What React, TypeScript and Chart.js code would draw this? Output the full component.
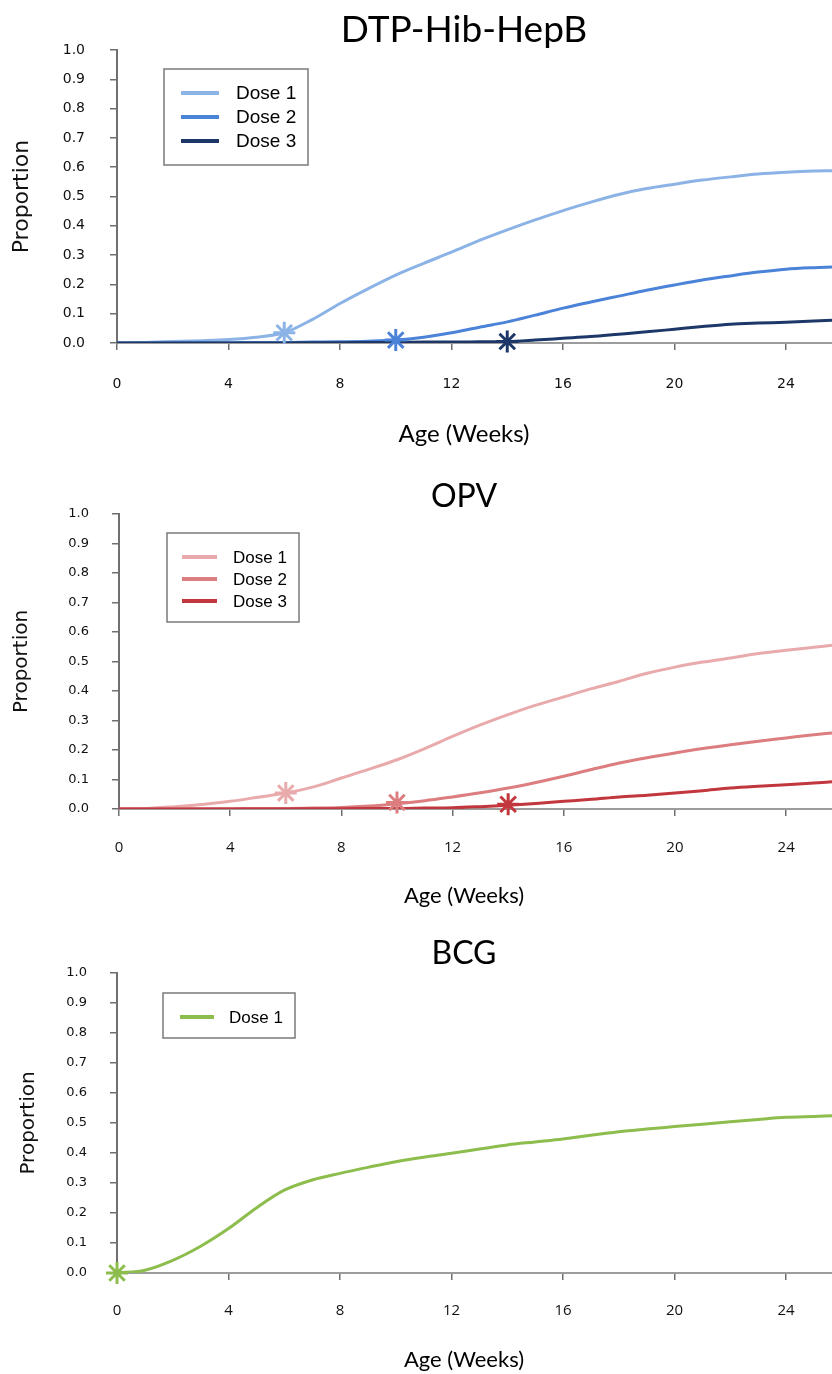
import React, { useEffect, useRef } from "react";
import { Chart, registerables } from "chart.js";

Chart.register(...registerables);

// ---------- data ----------
const weeks = [0, 1, 2, 3, 4, 5, 6, 7, 8, 9, 10, 11, 12, 13, 14, 15, 16, 17, 18, 19, 20, 21, 22, 23, 24, 25, 25.65];
const xTicks = [0, 4, 8, 12, 16, 20, 24];
const yTicks = [0, 0.1, 0.2, 0.3, 0.4, 0.5, 0.6, 0.7, 0.8, 0.9, 1.0];
const doseLabels = ["Dose 1", "Dose 2", "Dose 3"];

const dtpDose1 = [0, 0.002, 0.005, 0.008, 0.012, 0.02, 0.035, 0.08, 0.135, 0.185, 0.232, 0.272, 0.31, 0.35, 0.386, 0.42, 0.452, 0.481, 0.507, 0.527, 0.542, 0.556, 0.567, 0.577, 0.583, 0.587, 0.588];
const dtpDose2 = [0, 0, 0, 0.001, 0.001, 0.002, 0.002, 0.003, 0.004, 0.006, 0.01, 0.02, 0.035, 0.054, 0.072, 0.095, 0.119, 0.14, 0.16, 0.18, 0.198, 0.215, 0.229, 0.242, 0.252, 0.257, 0.259];
const dtpDose3 = [0, 0, 0, 0, 0, 0, 0, 0.001, 0.001, 0.002, 0.002, 0.003, 0.003, 0.004, 0.005, 0.01, 0.016, 0.022, 0.03, 0.038, 0.047, 0.056, 0.064, 0.068, 0.071, 0.075, 0.078];
const dtpMarkerWeeks = [6, 10, 14];
const dtpMarkerValues = [0.035, 0.01, 0.005];

const opvDose1 = [0, 0.002, 0.008, 0.015, 0.026, 0.04, 0.054, 0.075, 0.105, 0.135, 0.167, 0.205, 0.246, 0.285, 0.32, 0.352, 0.38, 0.408, 0.433, 0.46, 0.481, 0.498, 0.512, 0.527, 0.538, 0.548, 0.555];
const opvDose2 = [0, 0, 0, 0.001, 0.001, 0.002, 0.002, 0.003, 0.005, 0.01, 0.018, 0.028, 0.041, 0.055, 0.071, 0.09, 0.111, 0.134, 0.156, 0.174, 0.19, 0.205, 0.218, 0.23, 0.241, 0.252, 0.258];
const opvDose3 = [0, 0, 0, 0, 0, 0, 0, 0.001, 0.001, 0.002, 0.002, 0.003, 0.004, 0.008, 0.013, 0.019, 0.026, 0.033, 0.041, 0.047, 0.054, 0.062, 0.071, 0.077, 0.082, 0.088, 0.092];
const opvMarkerWeeks = [6, 10, 14];
const opvMarkerValues = [0.054, 0.022, 0.016];

const bcgDose1 = [0, 0.009, 0.042, 0.089, 0.148, 0.217, 0.276, 0.31, 0.332, 0.352, 0.371, 0.386, 0.399, 0.413, 0.427, 0.437, 0.447, 0.459, 0.471, 0.48, 0.488, 0.496, 0.504, 0.512, 0.519, 0.522, 0.524];
const bcgMarkerWeeks = [0];
const bcgMarkerValues = [0];

const X_MAX = 25.65;

// ---------- chart specs (styles / layout) ----------
type Spec = {
  title: string;
  series: number[][];
  colors: string[];
  markerWeeks: number[];
  markerValues: number[];
  height: number;
  topPad: number;
  xH: number;
  yW: number;
  yTitleSize: number;
  yTitlePad: number;
  yTickSize: number;
  yTickPad: number;
  xTickFamily: string;
  xTickSize: number;
  xTickPad: number;
  titleSize: number;
  titleY: number;
  xLabelSize: number;
  xLabelY: number;
  legend: { x: number; y: number; w: number; h: number; l1: number; l2: number; tx: number; row0: number; gap: number; font: number };
};

const specs: Spec[] = [
  {
    title: "DTP-Hib-HepB",
    series: [dtpDose1, dtpDose2, dtpDose3],
    colors: ["#8cb3e6", "#4a83d8", "#1d3868"],
    markerWeeks: dtpMarkerWeeks,
    markerValues: dtpMarkerValues,
    height: 460,
    topPad: 50,
    xH: 117,
    yW: 117,
    yTitleSize: 22,
    yTitlePad: 9.5,
    yTickSize: 14,
    yTickPad: 25,
    xTickFamily: "'DejaVu Sans', sans-serif",
    xTickSize: 14,
    xTickPad: 26,
    titleSize: 37,
    titleY: 42,
    xLabelSize: 24,
    xLabelY: 442,
    legend: { x: 164, y: 69, w: 144, h: 96, l1: 181, l2: 219, tx: 236, row0: 93, gap: 24, font: 19 },
  },
  {
    title: "OPV",
    series: [opvDose1, opvDose2, opvDose3],
    colors: ["#e9aaac", "#dc7d80", "#c2373d"],
    markerWeeks: opvMarkerWeeks,
    markerValues: opvMarkerValues,
    height: 460,
    topPad: 54,
    xH: 111,
    yW: 119,
    yTitleSize: 20,
    yTitlePad: 9.5,
    yTickSize: 13,
    yTickPad: 23,
    xTickFamily: "'Open Sans', sans-serif",
    xTickSize: 15,
    xTickPad: 23,
    titleSize: 32,
    titleY: 47,
    xLabelSize: 22,
    xLabelY: 443,
    legend: { x: 167, y: 73, w: 132, h: 89, l1: 182, l2: 217, tx: 233, row0: 97, gap: 22, font: 17 },
  },
  {
    title: "BCG",
    series: [bcgDose1],
    colors: ["#8dbd4c"],
    markerWeeks: bcgMarkerWeeks,
    markerValues: bcgMarkerValues,
    height: 454,
    topPad: 53,
    xH: 101,
    yW: 117,
    yTitleSize: 20,
    yTitlePad: 17,
    yTickSize: 13,
    yTickPad: 23,
    xTickFamily: "'Open Sans', sans-serif",
    xTickSize: 15,
    xTickPad: 22,
    titleSize: 32,
    titleY: 44,
    xLabelSize: 22,
    xLabelY: 447,
    legend: { x: 163, y: 73, w: 132, h: 45, l1: 180, l2: 214, tx: 229, row0: 97, gap: 22, font: 17 },
  },
];

const TITLE_CX = 464;

const figurePlugin = {
  id: "figureText",
  afterDraw(chart: any, _args: any, opts: any) {
    const ctx = chart.ctx as CanvasRenderingContext2D;
    ctx.save();
    ctx.fillStyle = "#000";
    ctx.textAlign = "center";
    ctx.textBaseline = "alphabetic";
    ctx.font = `${opts.titleSize}px Lato, sans-serif`;
    ctx.fillText(opts.title, TITLE_CX, opts.titleY);
    ctx.font = `${opts.xLabelSize}px Lato, sans-serif`;
    ctx.fillText("Age (Weeks)", TITLE_CX, opts.xLabelY);

    // legend box
    const lg = opts.legend;
    ctx.fillStyle = "#fff";
    ctx.fillRect(lg.x, lg.y, lg.w, lg.h);
    ctx.strokeStyle = "#7a7a7a";
    ctx.lineWidth = 1.5;
    ctx.strokeRect(lg.x, lg.y, lg.w, lg.h);
    const lines = chart.data.datasets.filter((d: any) => d.showLine !== false);
    ctx.textAlign = "left";
    ctx.textBaseline = "middle";
    ctx.font = `${lg.font}px 'Liberation Sans', Arial, sans-serif`;
    lines.forEach((d: any, i: number) => {
      const y = lg.row0 + i * lg.gap;
      ctx.strokeStyle = d.borderColor;
      ctx.lineWidth = 4;
      ctx.beginPath();
      ctx.moveTo(lg.l1, y);
      ctx.lineTo(lg.l2, y);
      ctx.stroke();
      ctx.fillStyle = "#000";
      ctx.fillText(d.label, lg.tx, y + 1);
    });
    ctx.restore();
  },
};

function buildConfig(s: Spec): any {
  const lineSets = s.series.map((vals, i) => ({
    label: doseLabels[i],
    data: weeks.map((w, j) => ({ x: w, y: vals[j] })),
    borderColor: s.colors[i],
    backgroundColor: s.colors[i],
    borderWidth: 3,
    pointRadius: 0,
    fill: false,
    cubicInterpolationMode: "monotone",
    // Dose 3 drawn on top of Dose 2 on top of Dose 1
    order: s.series.length - i,
  }));
  const markerSet = {
    label: "markers",
    data: s.markerWeeks.map((w, j) => ({ x: w, y: s.markerValues[j] })),
    showLine: false,
    pointStyle: "star",
    pointRadius: 11,
    pointBorderWidth: 3,
    pointBorderColor: s.markerWeeks.map((_, j) => s.colors[j]),
    pointBackgroundColor: s.markerWeeks.map((_, j) => s.colors[j]),
    clip: false,
    order: 0,
  };
  return {
    type: "line",
    data: { datasets: [...lineSets, markerSet] },
    plugins: [figurePlugin],
    options: {
      animation: false,
      responsive: false,
      maintainAspectRatio: false,
      events: [],
      layout: { autoPadding: false, padding: { top: s.topPad, left: 0, right: 0, bottom: 0 } },
      plugins: {
        legend: { display: false },
        tooltip: { enabled: false },
        title: { display: false },
        figureText: {
          title: s.title,
          titleSize: s.titleSize,
          titleY: s.titleY,
          xLabelSize: s.xLabelSize,
          xLabelY: s.xLabelY,
          legend: s.legend,
        },
      },
      scales: {
        x: {
          type: "linear",
          min: 0,
          max: X_MAX,
          afterBuildTicks: (sc: any) => {
            sc.ticks = xTicks.map((v) => ({ value: v }));
          },
          afterFit: (sc: any) => {
            sc.height = s.xH;
            sc.paddingRight = 0;
            sc.paddingLeft = 0;
          },
          ticks: {
            autoSkip: false,
            maxRotation: 0,
            includeBounds: false,
            padding: s.xTickPad,
            color: "#111",
            font: { family: s.xTickFamily, size: s.xTickSize },
            callback: (v: any) => String(v),
          },
          grid: { drawOnChartArea: false, drawTicks: true, tickLength: 7, tickColor: "#6f6f6f", lineWidth: 1.5 },
          border: { display: true, color: "#9c9c9c", width: 2 },
        },
        y: {
          type: "linear",
          min: 0,
          max: 1,
          afterBuildTicks: (sc: any) => {
            sc.ticks = yTicks.map((v) => ({ value: v }));
          },
          afterFit: (sc: any) => {
            sc.width = s.yW;
          },
          ticks: {
            autoSkip: false,
            padding: s.yTickPad,
            color: "#111",
            font: { family: "'DejaVu Sans', sans-serif", size: s.yTickSize },
            callback: (v: any) => Number(v).toFixed(1),
          },
          grid: { drawOnChartArea: false, drawTicks: true, tickLength: 7, tickColor: "#6f6f6f", lineWidth: 1.5 },
          border: { display: true, color: "#707070", width: 2 },
          title: {
            display: true,
            text: "Proportion",
            color: "#111",
            font: { family: "'DejaVu Sans', sans-serif", size: s.yTitleSize },
            padding: { top: s.yTitlePad, bottom: 0 },
          },
        },
      },
    },
  };
}

function Panel({ spec }: { spec: Spec }) {
  const ref = useRef<HTMLCanvasElement | null>(null);
  useEffect(() => {
    if (!ref.current) return;
    const chart = new Chart(ref.current, buildConfig(spec));
    return () => chart.destroy();
  }, [spec]);
  return (
    <canvas
      ref={ref}
      width={832}
      height={spec.height}
      style={{ display: "block", width: 832, height: spec.height }}
    />
  );
}

export default function App() {
  return (
    <div
      style={{
        position: "absolute",
        left: 0,
        top: 0,
        width: 832,
        height: 1374,
        overflow: "hidden",
        background: "#fff",
      }}
    >
      {specs.map((s) => (
        <Panel key={s.title} spec={s} />
      ))}
    </div>
  );
}
